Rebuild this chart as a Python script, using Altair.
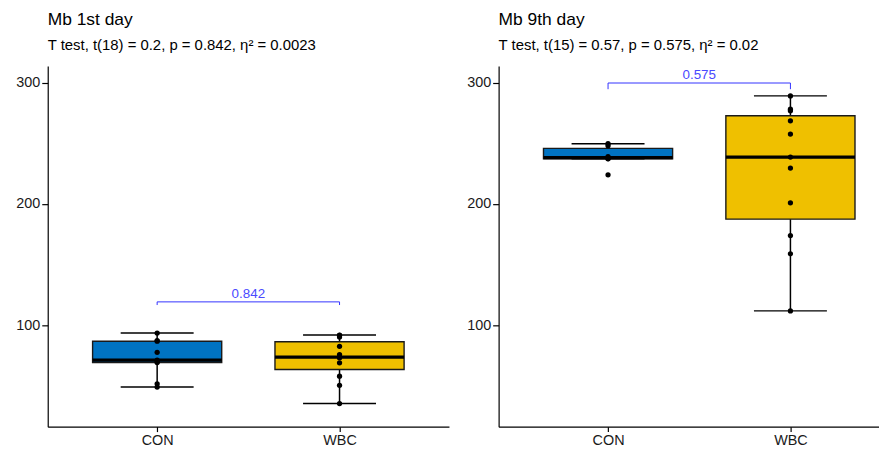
import altair as alt
import numpy as np
import pandas as pd

# ---- data ----
groups = ["CON", "WBC"]
colors = ["#0073C2", "#EFC000"]

con_day1 = [49.3, 52.0, 69.5, 70.2, 71.5, 77.9, 87.0, 87.6, 93.7]
wbc_day1 = [35.7, 50.7, 58.2, 69.2, 73.5, 73.9, 76.0, 82.8, 90.4, 91.8, 92.1]
con_day9 = [224.0, 237.2, 237.4, 239.0, 248.0, 249.6]
wbc_day9 = [112.0, 159.0, 174.0, 201.0, 229.6, 238.6, 257.6, 268.5, 276.7, 278.0, 289.0]

titles = ["Mb 1st day", "Mb 9th day"]
subtitles = [
    "T test, t(18) = 0.2, p = 0.842, η² = 0.0023",
    "T test, t(15) = 0.57, p = 0.575, η² = 0.02",
]
bracket_y = [119.4, 299.6]
bracket_tip = [116.8, 294.5]
p_labels = ["0.842", "0.575"]

y_ticks = [100, 200, 300]
y_domain = [16.7, 313.5]

FONT = "Liberation Sans"
BOX_HALF = 0.354
CAP_HALF = 0.2
LEFT_W = 404
RIGHT_W = 383
STEP = LEFT_W / 2.2


def box_stats(vals):
    a = np.array(vals, dtype=float)
    q1, med, q3 = np.percentile(a, [25, 50, 75])
    iqr = q3 - q1
    lo = a[a >= q1 - 1.5 * iqr].min()
    hi = a[a <= q3 + 1.5 * iqr].max()
    return q1, med, q3, lo, hi


def panel(con, wbc, title, subtitle, by, bt, lab, width, xmax):
    pts = pd.DataFrame({
        "pos": [1] * len(con) + [2] * len(wbc),
        "group": ["CON"] * len(con) + ["WBC"] * len(wbc),
        "value": con + wbc,
    })
    rows = []
    for i, (g, v) in enumerate(zip(groups, [con, wbc])):
        q1, med, q3, lo, hi = box_stats(v)
        p = i + 1
        rows.append(dict(group=g, pos=p, q1=q1, med=med, q3=q3, lo=lo, hi=hi,
                         bl=p - BOX_HALF, br=p + BOX_HALF,
                         cl=p - CAP_HALF, cr=p + CAP_HALF))
    st = pd.DataFrame(rows)
    br = pd.DataFrame({"x1": [1], "x2": [2], "xm": [1.5], "y": [by], "label": [lab]})
    tips = pd.DataFrame({"pos": [1, 2], "y": [by, by], "tip": [bt, bt]})

    xs = alt.Scale(domain=[0.4, xmax], nice=False, zero=False)
    ys = alt.Scale(domain=y_domain, nice=False, zero=False)
    xa = alt.Axis(values=[1, 2], title=None, grid=False, tickSize=5, labelPadding=2,
                  labelFlush=False,
                  labelExpr=f"datum.value == 1 ? '{groups[0]}' : '{groups[1]}'")
    ya = alt.Axis(values=y_ticks, title=None, grid=False, tickSize=6, labelPadding=2,
                  minExtent=30, maxExtent=30)

    def X(f):
        return alt.X(f, scale=xs, axis=xa)

    def Y(f):
        return alt.Y(f, scale=ys, axis=ya)

    whisk = alt.Chart(st).mark_rule(color="black", strokeWidth=1.5).encode(
        x=X("pos:Q"), y=Y("lo:Q"), y2="hi:Q")
    cap_lo = alt.Chart(st).mark_rule(color="black", strokeWidth=1.5).encode(
        x=X("cl:Q"), x2="cr:Q", y=Y("lo:Q"))
    cap_hi = alt.Chart(st).mark_rule(color="black", strokeWidth=1.5).encode(
        x=X("cl:Q"), x2="cr:Q", y=Y("hi:Q"))
    box = alt.Chart(st).mark_bar(stroke="#1a1a1a", strokeWidth=1.4, opacity=1).encode(
        x=X("bl:Q"), x2="br:Q", y=Y("q1:Q"), y2="q3:Q",
        color=alt.Color("group:N", scale=alt.Scale(domain=groups, range=colors), legend=None))
    median = alt.Chart(st).mark_rule(color="black", strokeWidth=3.2).encode(
        x=X("bl:Q"), x2="br:Q", y=Y("med:Q"))
    dots = alt.Chart(pts).mark_circle(color="black", size=28, opacity=1).encode(
        x=X("pos:Q"), y=Y("value:Q"))
    bline = alt.Chart(br).mark_rule(color="#3333FF", strokeWidth=1).encode(
        x=X("x1:Q"), x2="x2:Q", y=Y("y:Q"))
    btips = alt.Chart(tips).mark_rule(color="#3333FF", strokeWidth=1).encode(
        x=X("pos:Q"), y=Y("y:Q"), y2="tip:Q")
    btext = alt.Chart(br).mark_text(color="#4A4AFF", font=FONT, fontSize=13.5,
                                    baseline="bottom", dy=-1).encode(
        x=X("xm:Q"), y=Y("y:Q"), text="label:N")

    return alt.layer(whisk, cap_lo, cap_hi, box, median, dots, bline, btips, btext).properties(
        width=width, height=363,
        title=alt.TitleParams(text=title, subtitle=subtitle))


left = panel(con_day1, wbc_day1, titles[0], subtitles[0], bracket_y[0], bracket_tip[0],
             p_labels[0], LEFT_W, 2.6)
right = panel(con_day9, wbc_day9, titles[1], subtitles[1], bracket_y[1], bracket_tip[1],
              p_labels[1], RIGHT_W, 0.4 + RIGHT_W / STEP)

chart = alt.hconcat(left, right, spacing=17).properties(
    padding={"left": 7, "top": 2, "right": 0, "bottom": 0}
).configure_view(stroke=None).configure_axis(
    domainColor="black", domainWidth=1.2, tickColor="black", tickWidth=1.2,
    labelFont=FONT, labelFontSize=14.5, labelColor="#1a1a1a", grid=False
).configure_title(
    font=FONT, fontSize=17.5, fontWeight="normal", color="black", anchor="start",
    frame="group", subtitleFont=FONT, subtitleFontSize=15, subtitleColor="black",
    subtitlePadding=9.5, offset=13
)

chart.save("out.html", embed_options={"renderer": "svg", "actions": False})
